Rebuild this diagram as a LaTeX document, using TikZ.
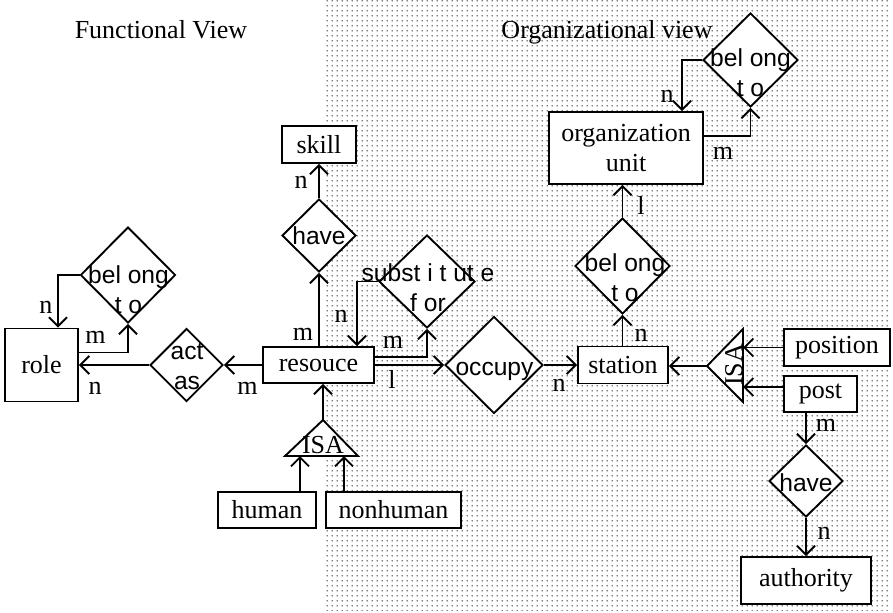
\documentclass[tikz,border=0pt]{standalone}
\usepackage{fontspec}
\setmainfont{Liberation Serif}
\newfontfamily\arialf{Liberation Sans}
\usetikzlibrary{arrows.meta,shapes.geometric,patterns.meta}
\newcommand\serifsz{\fontsize{13pt}{15pt}\selectfont}
\newcommand\sanssz{\arialf\fontsize{12.3pt}{15pt}\selectfont}
\tikzdeclarepattern{
  name=bgdots,
  type=uncolored,
  bounding box={(0pt,0pt) and (2.5pt,2.5pt)},
  tile size={(2.5pt,2.5pt)},
  code={\pgfpathcircle{\pgfpoint{1.25pt}{1.25pt}}{0.4pt}\pgfusepath{fill}}
}
\begin{document}
\begin{tikzpicture}[x=0.5pt,y=-0.5pt,
  line/.style={line width=0.95pt},
  arr/.style={line width=0.95pt,-{Straight Barb[length=4.5pt,width=9pt,line width=0.95pt]}},
  ent/.style={draw,fill=white,line width=0.95pt,inner sep=0pt,align=center,font=\serifsz},
  dia/.style={diamond,draw,fill=white,line width=0.95pt,inner sep=0pt},
  dtext/.style={align=center,inner sep=0pt,font=\sanssz},
  lab/.style={inner sep=0pt,font=\serifsz}]
\useasboundingbox (0,0) rectangle (893,612);
% dotted background of the organizational view
\fill[pattern=bgdots,pattern color=black] (324,0) rectangle (890,610);

% titles
\node[font=\serifsz,anchor=base,inner sep=0pt] (tfun) at (161,38) {Functional View};
\node[font=\serifsz,anchor=base,inner sep=0pt] (torg) at (607,38) {Organizational view};

% entities
\node[ent,minimum width=36.5pt,minimum height=36.5pt] (role) at (41.5,365) {role};
\node[ent,minimum width=55.5pt,minimum height=18pt] (res) at (318.5,365) {resouce};
\node[ent,minimum width=37pt,minimum height=18.5pt] (skill) at (319,144.5) {skill};
\node[ent,minimum width=77pt,minimum height=36pt] (org) at (626,148) {organization\\unit};
\node[ent,minimum width=45pt,minimum height=18.5pt] (sta) at (623,365) {station};
\node[ent,minimum width=53pt,minimum height=18.5pt] (pos) at (837,347.5) {position};
\node[ent,minimum width=36.5pt,minimum height=18pt] (post) at (820.5,394) {post};
\node[ent,minimum width=65pt,minimum height=23.5pt] (auth) at (806,580.5) {authority};
\node[ent,minimum width=49pt,minimum height=18pt] (human) at (267,510) {human};
\node[ent,minimum width=67.5pt,minimum height=18pt] (nonh) at (393.5,510) {nonhuman};

% relationships (diamonds)
\node[dia,minimum width=47.5pt,minimum height=48pt] (be1) at (128,275) {};
\node[dtext] (be1t) at (128.5,290) {bel ong\\t o};
\node[dia,minimum width=36.5pt,minimum height=36.5pt] (act) at (186.5,365) {};
\node[dtext] (actt) at (187,367) {act\\as};
\node[dia,minimum width=37pt,minimum height=36.5pt] (have1) at (319,235.5) {};
\node[dtext] (have1t) at (319,235.5) {have};
\node[dia,minimum width=48pt,minimum height=46.5pt] (sub) at (427,281.5) {};
\node[dtext] (subt) at (428,287.5) {subst i t ut e\\f or};
\node[dia,minimum width=49pt,minimum height=48.5pt] (occ) at (494,365) {};
\node[dtext] (occt) at (494.5,371) {occupy};
\node[dia,minimum width=47.5pt,minimum height=48pt] (be2) at (622.5,266) {};
\node[dtext] (be2t) at (625,278) {bel ong\\t o};
\node[dia,minimum width=47.5pt,minimum height=47pt] (be3) at (750.5,60) {};
\node[dtext] (be3t) at (750.5,73) {bel ong\\t o};
\node[dia,minimum width=37pt,minimum height=36pt] (have2) at (806,481) {};
\node[dtext] (have2t) at (806,482.5) {have};

% ISA triangles
\coordinate (isa1a) at (323,420);
\coordinate (isa1l) at (285,456);
\coordinate (isa1r) at (358,456);
\filldraw[line,fill=white] (isa1a) -- (isa1l) -- (isa1r) -- cycle;
\node[font=\serifsz,inner sep=0pt] (isa1) at (323,445) {ISA};
\coordinate (isa2a) at (707,366);
\coordinate (isa2t) at (743,329);
\coordinate (isa2b) at (743,402);
\filldraw[line,fill=white] (isa2a) -- (isa2t) -- (isa2b) -- cycle;
\node[font=\serifsz,inner sep=0pt,rotate=90] (isa2) at (734,365) {ISA};
\coordinate (hb1) at (300,456);
\coordinate (hb2) at (344,456);

% connectors
\draw[arr] (res.west) -- (act.east);
\draw[arr] (act.west) -- (role.east);
\draw[arr] (be1.west) -| ([xshift=8.25pt]role.north);
\draw[arr] ([yshift=6.25pt]role.east) -| (be1.south);
\draw[arr] (res.north -| have1.south) -- (have1.south);
\draw[arr] (have1.north) -- (skill.south);
\draw[arr] (sub.west) -| ([xshift=19.25pt]res.north);
\draw[arr] ([yshift=4pt]res.east) -| (sub.south);
\draw[arr] (res.east) -- (occ.west);
\draw[arr] (occ.east) -- (sta.west);
\draw[arr] (be2.south |- sta.north) -- (be2.south);
\draw[arr] (be2.north) -- (be2.north |- org.south);
\draw[arr] (be3.west) -| ([xshift=28pt]org.north);
\draw[arr] ([yshift=6pt]org.east) -| (be3.south);
\draw[arr] (isa2a) -- (isa2a -| sta.east);
\draw[arr] (pos.west) -- (pos.west -| isa2t);
\draw[arr] ([yshift=3.5pt]post.west) -- ([yshift=3.5pt]post.west -| isa2t);
\draw[arr] (have2.north |- post.south) -- (have2.north);
\draw[arr] (have2.south) -- (auth.north);
\draw[arr] (isa1a) -- (isa1a |- res.south);
\draw[arr] (hb1 |- human.north) -- (hb1);
\draw[arr] (hb2 |- nonh.north) -- (hb2);

% cardinality labels
\node[lab] (c1) at (247.5,388) {m};
\node[lab] (c2) at (95,388) {n};
\node[lab] (c3) at (46,307) {n};
\node[lab] (c4) at (95.5,337) {m};
\node[lab] (c5) at (303,334) {m};
\node[lab] (c6) at (301,182) {n};
\node[lab] (c7) at (341,316) {n};
\node[lab] (c8) at (393,342) {m};
\node[lab] (c9) at (392,379) {l};
\node[lab] (c10) at (559,385) {n};
\node[lab] (c11) at (641,335) {n};
\node[lab] (c12) at (641,205) {l};
\node[lab] (c13) at (667,96) {n};
\node[lab] (c14) at (723,153) {m};
\node[lab] (c15) at (826,425) {m};
\node[lab] (c16) at (824,533) {n};
\end{tikzpicture}
\end{document}
